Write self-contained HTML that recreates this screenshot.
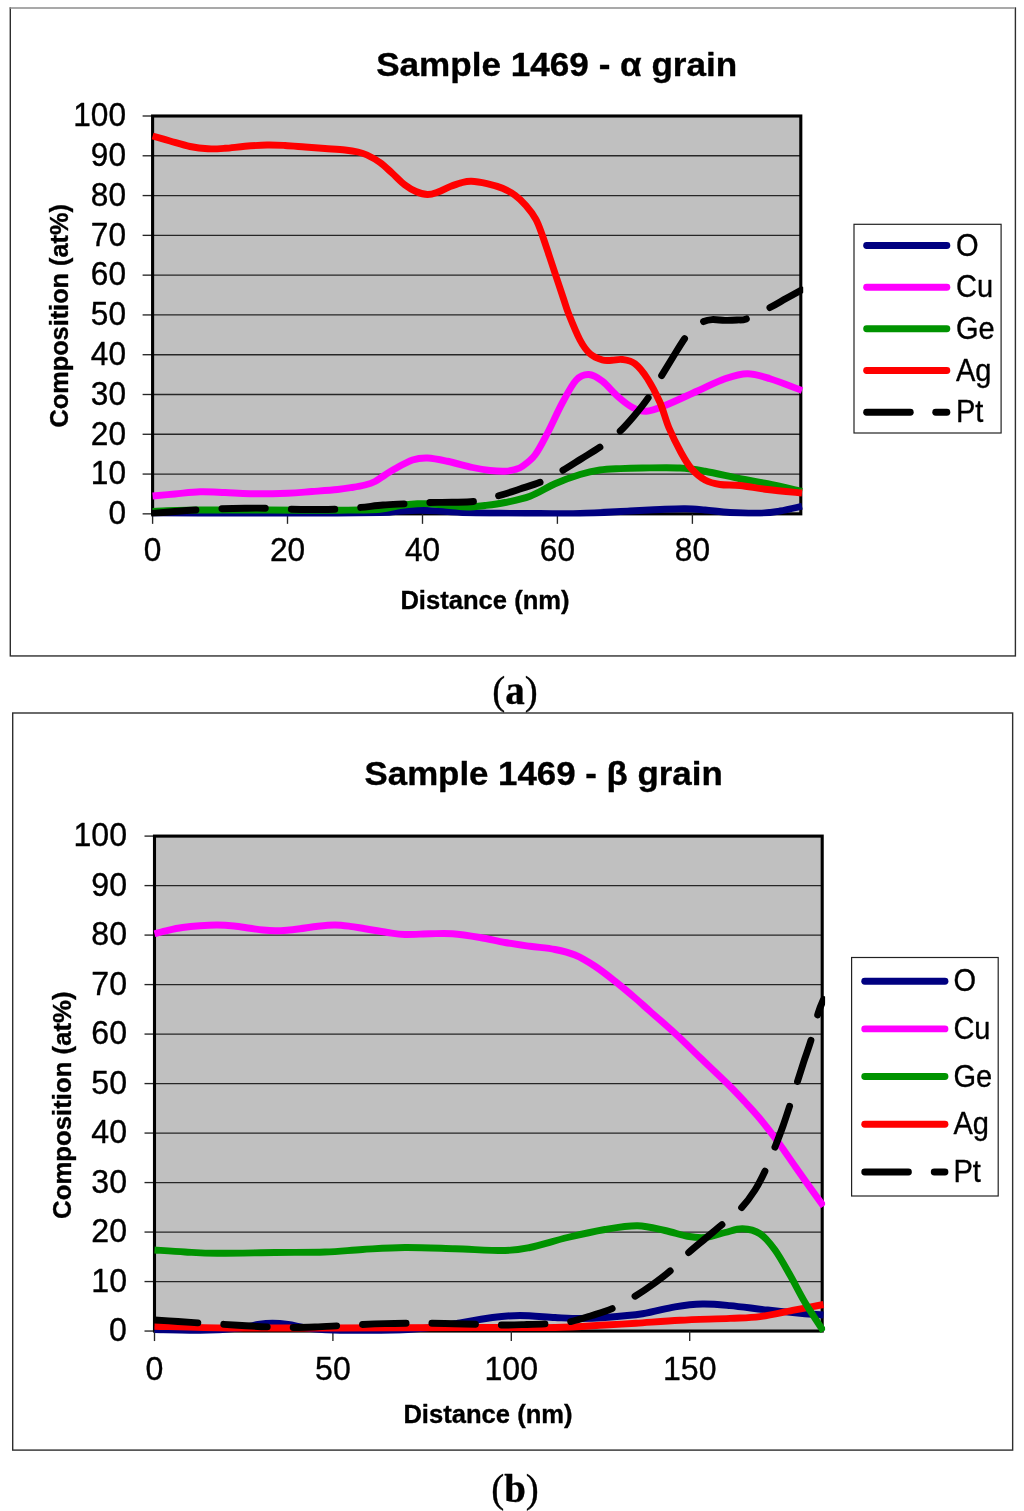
<!DOCTYPE html>
<html lang="en">
<head>
<meta charset="utf-8">
<title>Sample 1469 - composition profiles</title>
<style>
html,body{margin:0;padding:0;background:#fff;}
body{width:1024px;height:1511px;overflow:hidden;}
svg{display:block;}
text{fill:#000;stroke:#000;stroke-width:0.35px;stroke-linejoin:round;}
text.b{stroke-width:0.25px;}
</style>
</head>
<body>
<svg width="1024" height="1511" viewBox="0 0 1024 1511">
<rect width="1024" height="1511" fill="#fff"/>
<g id="chart-a">
<rect x="10.30" y="8.00" width="1005.10" height="647.95" fill="#fff" stroke="#2e2e2e" stroke-width="1.4"/>
<line x1="11.00" y1="8.00" x2="1014.70" y2="8.00" stroke="#fff" stroke-width="1.8"/>
<line x1="9.60" y1="8.00" x2="1014.70" y2="8.00" stroke="#8c8c8c" stroke-width="1.5"/>
<rect x="152.60" y="116.00" width="648.20" height="397.85" fill="#c0c0c0"/>
<line x1="142.60" y1="513.85" x2="152.60" y2="513.85" stroke="#262626" stroke-width="1.35"/>
<text x="0.00" y="0.00" font-size="32.30" text-anchor="end" font-weight="normal" font-family="'Liberation Sans', Arial, Helvetica, sans-serif" transform="translate(126.00 524.15) scale(0.9800 1)">0</text>
<line x1="152.60" y1="474.07" x2="800.80" y2="474.07" stroke="#262626" stroke-width="1.35"/>
<line x1="142.60" y1="474.07" x2="152.60" y2="474.07" stroke="#262626" stroke-width="1.35"/>
<text x="0.00" y="0.00" font-size="32.30" text-anchor="end" font-weight="normal" font-family="'Liberation Sans', Arial, Helvetica, sans-serif" transform="translate(126.00 484.37) scale(0.9800 1)">10</text>
<line x1="152.60" y1="434.28" x2="800.80" y2="434.28" stroke="#262626" stroke-width="1.35"/>
<line x1="142.60" y1="434.28" x2="152.60" y2="434.28" stroke="#262626" stroke-width="1.35"/>
<text x="0.00" y="0.00" font-size="32.30" text-anchor="end" font-weight="normal" font-family="'Liberation Sans', Arial, Helvetica, sans-serif" transform="translate(126.00 444.58) scale(0.9800 1)">20</text>
<line x1="152.60" y1="394.50" x2="800.80" y2="394.50" stroke="#262626" stroke-width="1.35"/>
<line x1="142.60" y1="394.50" x2="152.60" y2="394.50" stroke="#262626" stroke-width="1.35"/>
<text x="0.00" y="0.00" font-size="32.30" text-anchor="end" font-weight="normal" font-family="'Liberation Sans', Arial, Helvetica, sans-serif" transform="translate(126.00 404.80) scale(0.9800 1)">30</text>
<line x1="152.60" y1="354.71" x2="800.80" y2="354.71" stroke="#262626" stroke-width="1.35"/>
<line x1="142.60" y1="354.71" x2="152.60" y2="354.71" stroke="#262626" stroke-width="1.35"/>
<text x="0.00" y="0.00" font-size="32.30" text-anchor="end" font-weight="normal" font-family="'Liberation Sans', Arial, Helvetica, sans-serif" transform="translate(126.00 365.01) scale(0.9800 1)">40</text>
<line x1="152.60" y1="314.93" x2="800.80" y2="314.93" stroke="#262626" stroke-width="1.35"/>
<line x1="142.60" y1="314.93" x2="152.60" y2="314.93" stroke="#262626" stroke-width="1.35"/>
<text x="0.00" y="0.00" font-size="32.30" text-anchor="end" font-weight="normal" font-family="'Liberation Sans', Arial, Helvetica, sans-serif" transform="translate(126.00 325.23) scale(0.9800 1)">50</text>
<line x1="152.60" y1="275.14" x2="800.80" y2="275.14" stroke="#262626" stroke-width="1.35"/>
<line x1="142.60" y1="275.14" x2="152.60" y2="275.14" stroke="#262626" stroke-width="1.35"/>
<text x="0.00" y="0.00" font-size="32.30" text-anchor="end" font-weight="normal" font-family="'Liberation Sans', Arial, Helvetica, sans-serif" transform="translate(126.00 285.44) scale(0.9800 1)">60</text>
<line x1="152.60" y1="235.36" x2="800.80" y2="235.36" stroke="#262626" stroke-width="1.35"/>
<line x1="142.60" y1="235.36" x2="152.60" y2="235.36" stroke="#262626" stroke-width="1.35"/>
<text x="0.00" y="0.00" font-size="32.30" text-anchor="end" font-weight="normal" font-family="'Liberation Sans', Arial, Helvetica, sans-serif" transform="translate(126.00 245.66) scale(0.9800 1)">70</text>
<line x1="152.60" y1="195.57" x2="800.80" y2="195.57" stroke="#262626" stroke-width="1.35"/>
<line x1="142.60" y1="195.57" x2="152.60" y2="195.57" stroke="#262626" stroke-width="1.35"/>
<text x="0.00" y="0.00" font-size="32.30" text-anchor="end" font-weight="normal" font-family="'Liberation Sans', Arial, Helvetica, sans-serif" transform="translate(126.00 205.87) scale(0.9800 1)">80</text>
<line x1="152.60" y1="155.79" x2="800.80" y2="155.79" stroke="#262626" stroke-width="1.35"/>
<line x1="142.60" y1="155.79" x2="152.60" y2="155.79" stroke="#262626" stroke-width="1.35"/>
<text x="0.00" y="0.00" font-size="32.30" text-anchor="end" font-weight="normal" font-family="'Liberation Sans', Arial, Helvetica, sans-serif" transform="translate(126.00 166.09) scale(0.9800 1)">90</text>
<line x1="142.60" y1="116.00" x2="152.60" y2="116.00" stroke="#262626" stroke-width="1.35"/>
<text x="0.00" y="0.00" font-size="32.30" text-anchor="end" font-weight="normal" font-family="'Liberation Sans', Arial, Helvetica, sans-serif" transform="translate(126.00 126.30) scale(0.9800 1)">100</text>
<rect x="152.60" y="116.00" width="648.20" height="397.85" fill="none" stroke="#000" stroke-width="3.1"/>
<line x1="152.60" y1="513.85" x2="152.60" y2="523.85" stroke="#262626" stroke-width="1.35"/>
<text x="0.00" y="0.00" font-size="32.30" text-anchor="middle" font-weight="normal" font-family="'Liberation Sans', Arial, Helvetica, sans-serif" transform="translate(152.60 560.50) scale(0.9800 1)">0</text>
<line x1="287.50" y1="513.85" x2="287.50" y2="523.85" stroke="#262626" stroke-width="1.35"/>
<text x="0.00" y="0.00" font-size="32.30" text-anchor="middle" font-weight="normal" font-family="'Liberation Sans', Arial, Helvetica, sans-serif" transform="translate(287.50 560.50) scale(0.9800 1)">20</text>
<line x1="422.50" y1="513.85" x2="422.50" y2="523.85" stroke="#262626" stroke-width="1.35"/>
<text x="0.00" y="0.00" font-size="32.30" text-anchor="middle" font-weight="normal" font-family="'Liberation Sans', Arial, Helvetica, sans-serif" transform="translate(422.50 560.50) scale(0.9800 1)">40</text>
<line x1="557.40" y1="513.85" x2="557.40" y2="523.85" stroke="#262626" stroke-width="1.35"/>
<text x="0.00" y="0.00" font-size="32.30" text-anchor="middle" font-weight="normal" font-family="'Liberation Sans', Arial, Helvetica, sans-serif" transform="translate(557.40 560.50) scale(0.9800 1)">60</text>
<line x1="692.40" y1="513.85" x2="692.40" y2="523.85" stroke="#262626" stroke-width="1.35"/>
<text x="0.00" y="0.00" font-size="32.30" text-anchor="middle" font-weight="normal" font-family="'Liberation Sans', Arial, Helvetica, sans-serif" transform="translate(692.40 560.50) scale(0.9800 1)">80</text>
<clipPath id="clipA"><rect x="151.20" y="113.90" width="652.00" height="402.65"/></clipPath>
<g clip-path="url(#clipA)">
<path d="M152.60 513.00C160.50 513.08 175.43 513.33 200.00 513.50C224.57 513.67 270.00 514.17 300.00 514.00C330.00 513.83 363.33 513.00 380.00 512.50C396.67 512.00 393.33 511.37 400.00 511.00C406.67 510.63 413.33 510.30 420.00 510.30C426.67 510.30 431.67 510.60 440.00 511.00C448.33 511.40 460.00 512.32 470.00 512.70C480.00 513.08 488.33 513.17 500.00 513.30C511.67 513.43 526.67 513.47 540.00 513.50C553.33 513.53 565.00 513.92 580.00 513.50C595.00 513.08 616.67 511.67 630.00 511.00C643.33 510.33 650.83 509.88 660.00 509.50C669.17 509.12 677.50 508.67 685.00 508.75C692.50 508.83 697.50 509.38 705.00 510.00C712.50 510.62 720.83 511.97 730.00 512.50C739.17 513.03 751.67 513.45 760.00 513.20C768.33 512.95 773.00 512.16 780.00 511.00C787.00 509.84 798.33 507.04 802.00 506.25" fill="none" stroke="#000080" stroke-width="6.90" stroke-linejoin="round"/>
<path d="M152.60 496.00C156.33 495.67 167.10 494.71 175.00 494.00C182.90 493.29 191.67 492.00 200.00 491.75C208.33 491.50 216.67 492.17 225.00 492.50C233.33 492.83 239.58 493.62 250.00 493.75C260.42 493.88 277.17 493.62 287.50 493.25C297.83 492.88 303.67 492.12 312.00 491.50C320.33 490.88 330.83 490.17 337.50 489.50C344.17 488.83 347.42 488.25 352.00 487.50C356.58 486.75 361.17 486.00 365.00 485.00C368.83 484.00 371.67 483.17 375.00 481.50C378.33 479.83 381.67 477.12 385.00 475.00C388.33 472.88 390.42 471.25 395.00 468.75C399.58 466.25 407.08 461.79 412.50 460.00C417.92 458.21 421.67 457.79 427.50 458.00C433.33 458.21 440.00 459.67 447.50 461.25C455.00 462.83 465.42 465.96 472.50 467.50C479.58 469.04 484.58 469.88 490.00 470.50C495.42 471.12 500.83 471.42 505.00 471.25C509.17 471.08 512.08 470.33 515.00 469.50C517.92 468.67 519.17 468.67 522.50 466.25C525.83 463.83 530.83 460.54 535.00 455.00C539.17 449.46 542.92 441.75 547.50 433.00C552.08 424.25 557.71 411.33 562.50 402.50C567.29 393.67 571.88 384.67 576.25 380.00C580.62 375.33 584.38 374.29 588.75 374.50C593.12 374.71 597.71 377.62 602.50 381.25C607.29 384.88 612.50 391.88 617.50 396.25C622.50 400.62 627.71 405.00 632.50 407.50C637.29 410.00 640.83 411.58 646.25 411.25C651.67 410.92 656.46 408.88 665.00 405.50C673.54 402.12 687.50 395.45 697.50 391.00C707.50 386.55 716.67 381.68 725.00 378.80C733.33 375.93 740.00 373.76 747.50 373.75C755.00 373.74 760.92 375.96 770.00 378.75C779.08 381.54 796.67 388.54 802.00 390.50" fill="none" stroke="#ff00ff" stroke-width="6.90" stroke-linejoin="round"/>
<path d="M152.60 511.50C156.33 511.33 167.10 510.75 175.00 510.50C182.90 510.25 187.50 510.08 200.00 510.00C212.50 509.92 233.33 509.97 250.00 510.00C266.67 510.03 285.00 510.17 300.00 510.20C315.00 510.23 326.67 510.35 340.00 510.20C353.33 510.05 370.00 510.08 380.00 509.30C390.00 508.52 393.75 506.43 400.00 505.50C406.25 504.57 412.50 504.04 417.50 503.75C422.50 503.46 424.58 503.46 430.00 503.75C435.42 504.04 443.75 504.96 450.00 505.50C456.25 506.04 461.67 507.00 467.50 507.00C473.33 507.00 478.75 506.25 485.00 505.50C491.25 504.75 497.50 504.04 505.00 502.50C512.50 500.96 521.67 499.38 530.00 496.25C538.33 493.12 546.67 487.38 555.00 483.75C563.33 480.12 572.50 476.79 580.00 474.50C587.50 472.21 593.33 470.98 600.00 470.00C606.67 469.02 612.92 468.93 620.00 468.60C627.08 468.27 632.50 468.10 642.50 468.00C652.50 467.90 669.58 467.46 680.00 468.00C690.42 468.54 695.00 469.46 705.00 471.25C715.00 473.04 729.58 476.67 740.00 478.75C750.42 480.83 757.17 481.67 767.50 483.75C777.83 485.83 796.25 490.00 802.00 491.25" fill="none" stroke="#009300" stroke-width="6.90" stroke-linejoin="round"/>
<path d="M152.60 136.00C155.50 136.83 163.77 139.25 170.00 141.00C176.23 142.75 183.67 145.20 190.00 146.50C196.33 147.80 202.17 148.50 208.00 148.80C213.83 149.10 218.83 148.72 225.00 148.30C231.17 147.88 238.00 146.85 245.00 146.30C252.00 145.75 260.33 145.13 267.00 145.00C273.67 144.87 278.67 145.17 285.00 145.50C291.33 145.83 298.33 146.50 305.00 147.00C311.67 147.50 318.33 148.00 325.00 148.50C331.67 149.00 339.50 149.42 345.00 150.00C350.50 150.58 354.33 151.17 358.00 152.00C361.67 152.83 363.33 153.25 367.00 155.00C370.67 156.75 375.83 159.50 380.00 162.50C384.17 165.50 387.83 169.25 392.00 173.00C396.17 176.75 401.00 181.92 405.00 185.00C409.00 188.08 412.25 189.92 416.00 191.50C419.75 193.08 423.83 194.42 427.50 194.50C431.17 194.58 434.25 193.32 438.00 192.00C441.75 190.68 446.17 188.13 450.00 186.60C453.83 185.07 457.46 183.69 461.00 182.80C464.54 181.91 466.93 181.12 471.25 181.25C475.57 181.38 481.69 182.42 486.90 183.60C492.11 184.78 497.82 186.35 502.50 188.30C507.18 190.25 511.10 192.43 515.00 195.30C518.90 198.17 522.42 201.50 525.90 205.50C529.38 209.50 533.17 214.35 535.90 219.30C538.63 224.25 540.05 229.04 542.30 235.20C544.55 241.36 547.18 249.62 549.40 256.25C551.62 262.88 553.27 267.98 555.60 275.00C557.93 282.02 561.25 291.98 563.40 298.40C565.55 304.82 565.73 306.57 568.50 313.50C571.27 320.43 576.42 333.29 580.00 340.00C583.58 346.71 586.25 350.42 590.00 353.75C593.75 357.08 598.83 358.91 602.50 360.00C606.17 361.09 608.67 360.38 612.00 360.30C615.33 360.22 618.67 358.93 622.50 359.50C626.33 360.07 630.83 360.54 635.00 363.75C639.17 366.96 643.33 372.29 647.50 378.75C651.67 385.21 656.45 394.38 660.00 402.50C663.55 410.62 665.30 419.17 668.80 427.50C672.30 435.83 677.22 445.62 681.00 452.50C684.78 459.38 687.50 464.17 691.50 468.75C695.50 473.33 700.25 477.38 705.00 480.00C709.75 482.62 714.17 483.58 720.00 484.50C725.83 485.42 732.08 484.67 740.00 485.50C747.92 486.33 757.17 488.25 767.50 489.50C777.83 490.75 796.25 492.42 802.00 493.00" fill="none" stroke="#ff0000" stroke-width="6.90" stroke-linejoin="round"/>
<path d="M152.60 513.40C156.33 513.08 167.77 512.07 175.00 511.50C182.23 510.93 188.33 510.46 196.00 510.00C203.67 509.54 212.83 509.05 221.00 508.75C229.17 508.45 237.50 508.29 245.00 508.20C252.50 508.11 258.50 508.02 266.00 508.20C273.50 508.38 282.17 509.03 290.00 509.25C297.83 509.47 305.33 509.50 313.00 509.50C320.67 509.50 328.17 509.58 336.00 509.25C343.83 508.92 352.17 508.21 360.00 507.50C367.83 506.79 375.33 505.62 383.00 505.00C390.67 504.38 398.58 504.17 406.00 503.75C413.42 503.33 419.83 502.74 427.50 502.50C435.17 502.26 443.92 502.51 452.00 502.30C460.08 502.09 468.50 502.26 476.00 501.25C483.50 500.24 489.67 498.29 497.00 496.25C504.33 494.21 512.42 491.50 520.00 489.00C527.58 486.50 535.62 484.21 542.50 481.25C549.38 478.29 554.83 474.96 561.25 471.25C567.67 467.54 574.33 463.17 581.00 459.00C587.67 454.83 594.96 450.67 601.25 446.25C607.54 441.83 613.29 437.54 618.75 432.50C624.21 427.46 629.00 421.92 634.00 416.00C639.00 410.08 644.21 403.62 648.75 397.00C653.29 390.38 657.21 382.92 661.25 376.25C665.29 369.58 669.12 363.25 673.00 357.00C676.88 350.75 681.17 343.58 684.50 338.75C687.83 333.92 690.00 330.79 693.00 328.00C696.00 325.21 699.33 323.40 702.50 322.00C705.67 320.60 708.25 319.87 712.00 319.60C715.75 319.33 720.83 320.33 725.00 320.40C729.17 320.47 733.25 320.32 737.00 320.00C740.75 319.68 742.00 320.58 747.50 318.50C753.00 316.42 763.58 310.83 770.00 307.50C776.42 304.17 780.75 301.42 786.00 298.50C791.25 295.58 798.92 291.42 801.50 290.00" fill="none" stroke="#000" stroke-width="6.90" stroke-linecap="round" stroke-linejoin="round" stroke-dasharray="43.45 26.0"/>
</g>
<text x="0.00" y="0.00" font-size="33.80" text-anchor="middle" font-weight="bold" font-family="'Liberation Sans', Arial, Helvetica, sans-serif" transform="translate(556.70 75.60) scale(1.0390 1)">Sample 1469 - α grain</text>
<text x="485.00" y="608.75" font-size="25.60" text-anchor="middle" font-weight="bold" font-family="'Liberation Sans', Arial, Helvetica, sans-serif">Distance (nm)</text>
<text font-size="25.30" text-anchor="middle" font-weight="bold" font-family="'Liberation Sans', Arial, Helvetica, sans-serif" transform="translate(67.50 315.80) rotate(-90)">Composition (at%)</text>
<rect x="854.00" y="224.30" width="147.10" height="208.70" fill="#fff" stroke="#222" stroke-width="1.2"/>
<line x1="866.65" y1="245.50" x2="946.85" y2="245.50" stroke="#000080" stroke-width="6.90" stroke-linecap="round"/>
<text x="0.00" y="0.00" font-size="31.40" text-anchor="start" font-weight="normal" font-family="'Liberation Sans', Arial, Helvetica, sans-serif" transform="translate(956.00 255.50) scale(0.9250 1)">O</text>
<line x1="866.65" y1="287.20" x2="946.85" y2="287.20" stroke="#ff00ff" stroke-width="6.90" stroke-linecap="round"/>
<text x="0.00" y="0.00" font-size="31.40" text-anchor="start" font-weight="normal" font-family="'Liberation Sans', Arial, Helvetica, sans-serif" transform="translate(956.00 297.20) scale(0.9250 1)">Cu</text>
<line x1="866.65" y1="328.80" x2="946.85" y2="328.80" stroke="#009300" stroke-width="6.90" stroke-linecap="round"/>
<text x="0.00" y="0.00" font-size="31.40" text-anchor="start" font-weight="normal" font-family="'Liberation Sans', Arial, Helvetica, sans-serif" transform="translate(956.00 338.80) scale(0.9250 1)">Ge</text>
<line x1="866.65" y1="370.50" x2="946.85" y2="370.50" stroke="#ff0000" stroke-width="6.90" stroke-linecap="round"/>
<text x="0.00" y="0.00" font-size="31.40" text-anchor="start" font-weight="normal" font-family="'Liberation Sans', Arial, Helvetica, sans-serif" transform="translate(956.00 380.50) scale(0.9250 1)">Ag</text>
<line x1="866.65" y1="412.20" x2="910.25" y2="412.20" stroke="#000" stroke-width="6.90" stroke-linecap="round"/>
<line x1="935.75" y1="412.20" x2="946.85" y2="412.20" stroke="#000" stroke-width="6.90" stroke-linecap="round"/>
<text x="0.00" y="0.00" font-size="31.40" text-anchor="start" font-weight="normal" font-family="'Liberation Sans', Arial, Helvetica, sans-serif" transform="translate(956.00 422.20) scale(0.9250 1)">Pt</text>
<text x="515.00" y="704.00" font-size="39.00" text-anchor="middle" font-family="'Liberation Serif', 'Times New Roman', serif">(<tspan font-weight="bold">a</tspan>)</text>
</g>
<g id="chart-b">
<rect x="12.70" y="713.00" width="999.95" height="737.10" fill="#fff" stroke="#2e2e2e" stroke-width="1.4"/>
<rect x="154.50" y="836.10" width="667.70" height="494.95" fill="#c0c0c0"/>
<line x1="144.50" y1="1331.05" x2="154.50" y2="1331.05" stroke="#262626" stroke-width="1.35"/>
<text x="0.00" y="0.00" font-size="32.30" text-anchor="end" font-weight="normal" font-family="'Liberation Sans', Arial, Helvetica, sans-serif" transform="translate(127.00 1341.35) scale(0.9950 1)">0</text>
<line x1="154.50" y1="1281.56" x2="822.20" y2="1281.56" stroke="#262626" stroke-width="1.35"/>
<line x1="144.50" y1="1281.56" x2="154.50" y2="1281.56" stroke="#262626" stroke-width="1.35"/>
<text x="0.00" y="0.00" font-size="32.30" text-anchor="end" font-weight="normal" font-family="'Liberation Sans', Arial, Helvetica, sans-serif" transform="translate(127.00 1291.86) scale(0.9950 1)">10</text>
<line x1="154.50" y1="1232.06" x2="822.20" y2="1232.06" stroke="#262626" stroke-width="1.35"/>
<line x1="144.50" y1="1232.06" x2="154.50" y2="1232.06" stroke="#262626" stroke-width="1.35"/>
<text x="0.00" y="0.00" font-size="32.30" text-anchor="end" font-weight="normal" font-family="'Liberation Sans', Arial, Helvetica, sans-serif" transform="translate(127.00 1242.36) scale(0.9950 1)">20</text>
<line x1="154.50" y1="1182.57" x2="822.20" y2="1182.57" stroke="#262626" stroke-width="1.35"/>
<line x1="144.50" y1="1182.57" x2="154.50" y2="1182.57" stroke="#262626" stroke-width="1.35"/>
<text x="0.00" y="0.00" font-size="32.30" text-anchor="end" font-weight="normal" font-family="'Liberation Sans', Arial, Helvetica, sans-serif" transform="translate(127.00 1192.87) scale(0.9950 1)">30</text>
<line x1="154.50" y1="1133.07" x2="822.20" y2="1133.07" stroke="#262626" stroke-width="1.35"/>
<line x1="144.50" y1="1133.07" x2="154.50" y2="1133.07" stroke="#262626" stroke-width="1.35"/>
<text x="0.00" y="0.00" font-size="32.30" text-anchor="end" font-weight="normal" font-family="'Liberation Sans', Arial, Helvetica, sans-serif" transform="translate(127.00 1143.37) scale(0.9950 1)">40</text>
<line x1="154.50" y1="1083.58" x2="822.20" y2="1083.58" stroke="#262626" stroke-width="1.35"/>
<line x1="144.50" y1="1083.58" x2="154.50" y2="1083.58" stroke="#262626" stroke-width="1.35"/>
<text x="0.00" y="0.00" font-size="32.30" text-anchor="end" font-weight="normal" font-family="'Liberation Sans', Arial, Helvetica, sans-serif" transform="translate(127.00 1093.88) scale(0.9950 1)">50</text>
<line x1="154.50" y1="1034.08" x2="822.20" y2="1034.08" stroke="#262626" stroke-width="1.35"/>
<line x1="144.50" y1="1034.08" x2="154.50" y2="1034.08" stroke="#262626" stroke-width="1.35"/>
<text x="0.00" y="0.00" font-size="32.30" text-anchor="end" font-weight="normal" font-family="'Liberation Sans', Arial, Helvetica, sans-serif" transform="translate(127.00 1044.38) scale(0.9950 1)">60</text>
<line x1="154.50" y1="984.59" x2="822.20" y2="984.59" stroke="#262626" stroke-width="1.35"/>
<line x1="144.50" y1="984.59" x2="154.50" y2="984.59" stroke="#262626" stroke-width="1.35"/>
<text x="0.00" y="0.00" font-size="32.30" text-anchor="end" font-weight="normal" font-family="'Liberation Sans', Arial, Helvetica, sans-serif" transform="translate(127.00 994.88) scale(0.9950 1)">70</text>
<line x1="154.50" y1="935.09" x2="822.20" y2="935.09" stroke="#262626" stroke-width="1.35"/>
<line x1="144.50" y1="935.09" x2="154.50" y2="935.09" stroke="#262626" stroke-width="1.35"/>
<text x="0.00" y="0.00" font-size="32.30" text-anchor="end" font-weight="normal" font-family="'Liberation Sans', Arial, Helvetica, sans-serif" transform="translate(127.00 945.39) scale(0.9950 1)">80</text>
<line x1="154.50" y1="885.60" x2="822.20" y2="885.60" stroke="#262626" stroke-width="1.35"/>
<line x1="144.50" y1="885.60" x2="154.50" y2="885.60" stroke="#262626" stroke-width="1.35"/>
<text x="0.00" y="0.00" font-size="32.30" text-anchor="end" font-weight="normal" font-family="'Liberation Sans', Arial, Helvetica, sans-serif" transform="translate(127.00 895.89) scale(0.9950 1)">90</text>
<line x1="144.50" y1="836.10" x2="154.50" y2="836.10" stroke="#262626" stroke-width="1.35"/>
<text x="0.00" y="0.00" font-size="32.30" text-anchor="end" font-weight="normal" font-family="'Liberation Sans', Arial, Helvetica, sans-serif" transform="translate(127.00 846.40) scale(0.9950 1)">100</text>
<rect x="154.50" y="836.10" width="667.70" height="494.95" fill="none" stroke="#000" stroke-width="3.1"/>
<line x1="154.50" y1="1331.05" x2="154.50" y2="1341.05" stroke="#262626" stroke-width="1.35"/>
<text x="0.00" y="0.00" font-size="32.30" text-anchor="middle" font-weight="normal" font-family="'Liberation Sans', Arial, Helvetica, sans-serif" transform="translate(154.50 1379.50) scale(0.9950 1)">0</text>
<line x1="332.90" y1="1331.05" x2="332.90" y2="1341.05" stroke="#262626" stroke-width="1.35"/>
<text x="0.00" y="0.00" font-size="32.30" text-anchor="middle" font-weight="normal" font-family="'Liberation Sans', Arial, Helvetica, sans-serif" transform="translate(332.90 1379.50) scale(0.9950 1)">50</text>
<line x1="511.30" y1="1331.05" x2="511.30" y2="1341.05" stroke="#262626" stroke-width="1.35"/>
<text x="0.00" y="0.00" font-size="32.30" text-anchor="middle" font-weight="normal" font-family="'Liberation Sans', Arial, Helvetica, sans-serif" transform="translate(511.30 1379.50) scale(0.9950 1)">100</text>
<line x1="689.70" y1="1331.05" x2="689.70" y2="1341.05" stroke="#262626" stroke-width="1.35"/>
<text x="0.00" y="0.00" font-size="32.30" text-anchor="middle" font-weight="normal" font-family="'Liberation Sans', Arial, Helvetica, sans-serif" transform="translate(689.70 1379.50) scale(0.9950 1)">150</text>
<clipPath id="clipB"><rect x="153.10" y="834.00" width="672.00" height="499.75"/></clipPath>
<g clip-path="url(#clipB)">
<path d="M154.50 1329.50C162.08 1329.67 185.75 1330.75 200.00 1330.50C214.25 1330.25 230.33 1329.00 240.00 1328.00C249.67 1327.00 252.58 1325.28 258.00 1324.50C263.42 1323.72 267.50 1323.30 272.50 1323.30C277.50 1323.30 281.75 1323.63 288.00 1324.50C294.25 1325.37 301.33 1327.50 310.00 1328.50C318.67 1329.50 325.00 1330.25 340.00 1330.50C355.00 1330.75 383.33 1330.67 400.00 1330.00C416.67 1329.33 430.83 1327.54 440.00 1326.50C449.17 1325.46 446.25 1325.25 455.00 1323.75C463.75 1322.25 481.67 1318.88 492.50 1317.50C503.33 1316.12 509.58 1315.50 520.00 1315.50C530.42 1315.50 545.00 1317.00 555.00 1317.50C565.00 1318.00 571.67 1318.50 580.00 1318.50C588.33 1318.50 594.58 1318.29 605.00 1317.50C615.42 1316.71 630.83 1315.53 642.50 1313.75C654.17 1311.97 665.00 1308.42 675.00 1306.80C685.00 1305.17 693.33 1304.20 702.50 1304.00C711.67 1303.80 719.17 1304.60 730.00 1305.60C740.83 1306.60 755.00 1308.64 767.50 1310.00C780.00 1311.36 795.67 1312.92 805.00 1313.75C814.33 1314.58 820.42 1314.79 823.50 1315.00" fill="none" stroke="#000080" stroke-width="6.90" stroke-linejoin="round"/>
<path d="M154.50 933.75C156.75 933.17 163.33 931.34 168.00 930.30C172.67 929.26 177.17 928.27 182.50 927.50C187.83 926.73 194.17 926.12 200.00 925.70C205.83 925.28 211.83 924.95 217.50 925.00C223.17 925.05 228.58 925.46 234.00 926.00C239.42 926.54 245.17 927.58 250.00 928.25C254.83 928.92 258.83 929.58 263.00 930.00C267.17 930.42 271.00 930.72 275.00 930.75C279.00 930.78 282.83 930.53 287.00 930.20C291.17 929.87 294.83 929.42 300.00 928.75C305.17 928.08 312.17 926.83 318.00 926.20C323.83 925.58 329.67 924.98 335.00 925.00C340.33 925.02 345.00 925.67 350.00 926.30C355.00 926.92 358.75 927.72 365.00 928.75C371.25 929.78 380.83 931.54 387.50 932.50C394.17 933.46 397.92 934.29 405.00 934.50C412.08 934.71 422.08 933.88 430.00 933.75C437.92 933.62 444.17 933.12 452.50 933.75C460.83 934.38 471.25 936.04 480.00 937.50C488.75 938.96 496.67 941.04 505.00 942.50C513.33 943.96 521.67 945.08 530.00 946.25C538.33 947.42 547.50 948.04 555.00 949.50C562.50 950.96 568.33 952.21 575.00 955.00C581.67 957.79 588.33 961.88 595.00 966.25C601.67 970.62 608.17 975.83 615.00 981.25C621.83 986.67 630.17 993.75 636.00 998.75C641.83 1003.75 643.29 1005.29 650.00 1011.25C656.71 1017.21 667.92 1026.79 676.25 1034.50C684.58 1042.21 691.46 1049.29 700.00 1057.50C708.54 1065.71 720.00 1076.33 727.50 1083.75C735.00 1091.17 739.58 1096.17 745.00 1102.00C750.42 1107.83 754.58 1112.21 760.00 1118.75C765.42 1125.29 771.67 1133.33 777.50 1141.25C783.33 1149.17 789.58 1158.54 795.00 1166.25C800.42 1173.96 805.25 1180.83 810.00 1187.50C814.75 1194.17 821.25 1203.12 823.50 1206.25" fill="none" stroke="#ff00ff" stroke-width="6.90" stroke-linejoin="round"/>
<path d="M154.50 1326.25C167.08 1326.54 200.75 1327.71 230.00 1328.00C259.25 1328.29 288.33 1328.08 330.00 1328.00C371.67 1327.92 442.50 1327.58 480.00 1327.50C517.50 1327.42 534.17 1327.92 555.00 1327.50C575.83 1327.08 591.50 1325.71 605.00 1325.00C618.50 1324.29 623.50 1324.03 636.00 1323.25C648.50 1322.47 664.33 1321.11 680.00 1320.30C695.67 1319.49 716.67 1319.02 730.00 1318.40C743.33 1317.78 749.58 1317.93 760.00 1316.60C770.42 1315.27 781.92 1312.42 792.50 1310.40C803.08 1308.38 818.33 1305.48 823.50 1304.50" fill="none" stroke="#ff0000" stroke-width="6.90" stroke-linejoin="round"/>
<path d="M154.50 1250.00C159.58 1250.33 174.50 1251.46 185.00 1252.00C195.50 1252.54 202.50 1253.17 217.50 1253.25C232.50 1253.33 257.08 1252.71 275.00 1252.50C292.92 1252.29 310.42 1252.50 325.00 1252.00C339.58 1251.50 349.17 1250.25 362.50 1249.50C375.83 1248.75 389.58 1247.62 405.00 1247.50C420.42 1247.38 438.33 1248.25 455.00 1248.75C471.67 1249.25 492.50 1250.71 505.00 1250.50C517.50 1250.29 519.58 1249.67 530.00 1247.50C540.42 1245.33 555.00 1240.50 567.50 1237.50C580.00 1234.50 593.33 1231.46 605.00 1229.50C616.67 1227.54 627.50 1225.58 637.50 1225.75C647.50 1225.92 656.67 1228.75 665.00 1230.50C673.33 1232.25 680.83 1235.08 687.50 1236.25C694.17 1237.42 698.75 1238.12 705.00 1237.50C711.25 1236.88 718.75 1233.96 725.00 1232.50C731.25 1231.04 736.67 1228.54 742.50 1228.75C748.33 1228.96 754.58 1230.21 760.00 1233.75C765.42 1237.29 770.00 1243.12 775.00 1250.00C780.00 1256.88 785.00 1266.25 790.00 1275.00C795.00 1283.75 799.42 1293.12 805.00 1302.50C810.58 1311.88 820.42 1326.46 823.50 1331.25" fill="none" stroke="#009300" stroke-width="6.90" stroke-linejoin="round"/>
<path d="M154.50 1320.00C158.42 1320.25 170.42 1321.00 178.00 1321.50C185.58 1322.00 192.58 1322.54 200.00 1323.00C207.42 1323.46 214.83 1323.78 222.50 1324.25C230.17 1324.72 238.17 1325.34 246.00 1325.80C253.83 1326.26 261.83 1326.72 269.50 1327.00C277.17 1327.28 284.42 1327.50 292.00 1327.50C299.58 1327.50 307.21 1327.29 315.00 1327.00C322.79 1326.71 331.04 1326.17 338.75 1325.75C346.46 1325.33 353.54 1324.86 361.25 1324.50C368.96 1324.14 377.08 1323.81 385.00 1323.60C392.92 1323.39 401.25 1323.31 408.75 1323.25C416.25 1323.19 422.46 1323.17 430.00 1323.25C437.54 1323.33 446.08 1323.53 454.00 1323.70C461.92 1323.87 469.83 1324.03 477.50 1324.25C485.17 1324.47 492.25 1324.94 500.00 1325.00C507.75 1325.06 516.08 1324.81 524.00 1324.60C531.92 1324.39 539.92 1324.22 547.50 1323.75C555.08 1323.28 562.08 1323.12 569.50 1321.75C576.92 1320.38 584.62 1317.79 592.00 1315.50C599.38 1313.21 606.58 1311.21 613.75 1308.00C620.92 1304.79 628.29 1300.33 635.00 1296.25C641.71 1292.17 647.96 1287.88 654.00 1283.50C660.04 1279.12 665.46 1275.17 671.25 1270.00C677.04 1264.83 682.96 1257.83 688.75 1252.50C694.54 1247.17 700.38 1242.71 706.00 1238.00C711.62 1233.29 716.62 1229.25 722.50 1224.25C728.38 1219.25 735.83 1213.71 741.25 1208.00C746.67 1202.29 750.96 1196.33 755.00 1190.00C759.04 1183.67 762.17 1177.17 765.50 1170.00C768.83 1162.83 772.08 1154.33 775.00 1147.00C777.92 1139.67 780.50 1133.00 783.00 1126.00C785.50 1119.00 787.67 1112.17 790.00 1105.00C792.33 1097.83 794.67 1090.33 797.00 1083.00C799.33 1075.67 801.67 1068.17 804.00 1061.00C806.33 1053.83 808.63 1048.00 811.00 1040.00C813.37 1032.00 816.12 1019.75 818.20 1013.00C820.28 1006.25 822.62 1001.75 823.50 999.50" fill="none" stroke="#000" stroke-width="6.90" stroke-linecap="round" stroke-linejoin="round" stroke-dasharray="43.45 26.0"/>
</g>
<text x="0.00" y="0.00" font-size="33.80" text-anchor="middle" font-weight="bold" font-family="'Liberation Sans', Arial, Helvetica, sans-serif" transform="translate(543.60 784.70) scale(1.0310 1)">Sample 1469 - β grain</text>
<text x="488.00" y="1422.50" font-size="25.60" text-anchor="middle" font-weight="bold" font-family="'Liberation Sans', Arial, Helvetica, sans-serif">Distance (nm)</text>
<text font-size="25.75" text-anchor="middle" font-weight="bold" font-family="'Liberation Sans', Arial, Helvetica, sans-serif" transform="translate(71.20 1105.20) rotate(-90)">Composition (at%)</text>
<rect x="851.60" y="957.50" width="146.60" height="238.50" fill="#fff" stroke="#222" stroke-width="1.2"/>
<line x1="864.75" y1="981.20" x2="944.95" y2="981.20" stroke="#000080" stroke-width="6.90" stroke-linecap="round"/>
<text x="0.00" y="0.00" font-size="31.40" text-anchor="start" font-weight="normal" font-family="'Liberation Sans', Arial, Helvetica, sans-serif" transform="translate(953.40 991.20) scale(0.9250 1)">O</text>
<line x1="864.75" y1="1028.90" x2="944.95" y2="1028.90" stroke="#ff00ff" stroke-width="6.90" stroke-linecap="round"/>
<text x="0.00" y="0.00" font-size="31.40" text-anchor="start" font-weight="normal" font-family="'Liberation Sans', Arial, Helvetica, sans-serif" transform="translate(953.40 1038.90) scale(0.9250 1)">Cu</text>
<line x1="864.75" y1="1076.50" x2="944.95" y2="1076.50" stroke="#009300" stroke-width="6.90" stroke-linecap="round"/>
<text x="0.00" y="0.00" font-size="31.40" text-anchor="start" font-weight="normal" font-family="'Liberation Sans', Arial, Helvetica, sans-serif" transform="translate(953.40 1086.50) scale(0.9250 1)">Ge</text>
<line x1="864.75" y1="1124.20" x2="944.95" y2="1124.20" stroke="#ff0000" stroke-width="6.90" stroke-linecap="round"/>
<text x="0.00" y="0.00" font-size="31.40" text-anchor="start" font-weight="normal" font-family="'Liberation Sans', Arial, Helvetica, sans-serif" transform="translate(953.40 1134.20) scale(0.9250 1)">Ag</text>
<line x1="864.75" y1="1172.00" x2="908.40" y2="1172.00" stroke="#000" stroke-width="6.90" stroke-linecap="round"/>
<line x1="934.25" y1="1172.00" x2="944.95" y2="1172.00" stroke="#000" stroke-width="6.90" stroke-linecap="round"/>
<text x="0.00" y="0.00" font-size="31.40" text-anchor="start" font-weight="normal" font-family="'Liberation Sans', Arial, Helvetica, sans-serif" transform="translate(953.40 1182.00) scale(0.9250 1)">Pt</text>
<text x="515.00" y="1501.50" font-size="39.00" text-anchor="middle" font-family="'Liberation Serif', 'Times New Roman', serif">(<tspan font-weight="bold">b</tspan>)</text>
</g>
</svg>
</body>
</html>
